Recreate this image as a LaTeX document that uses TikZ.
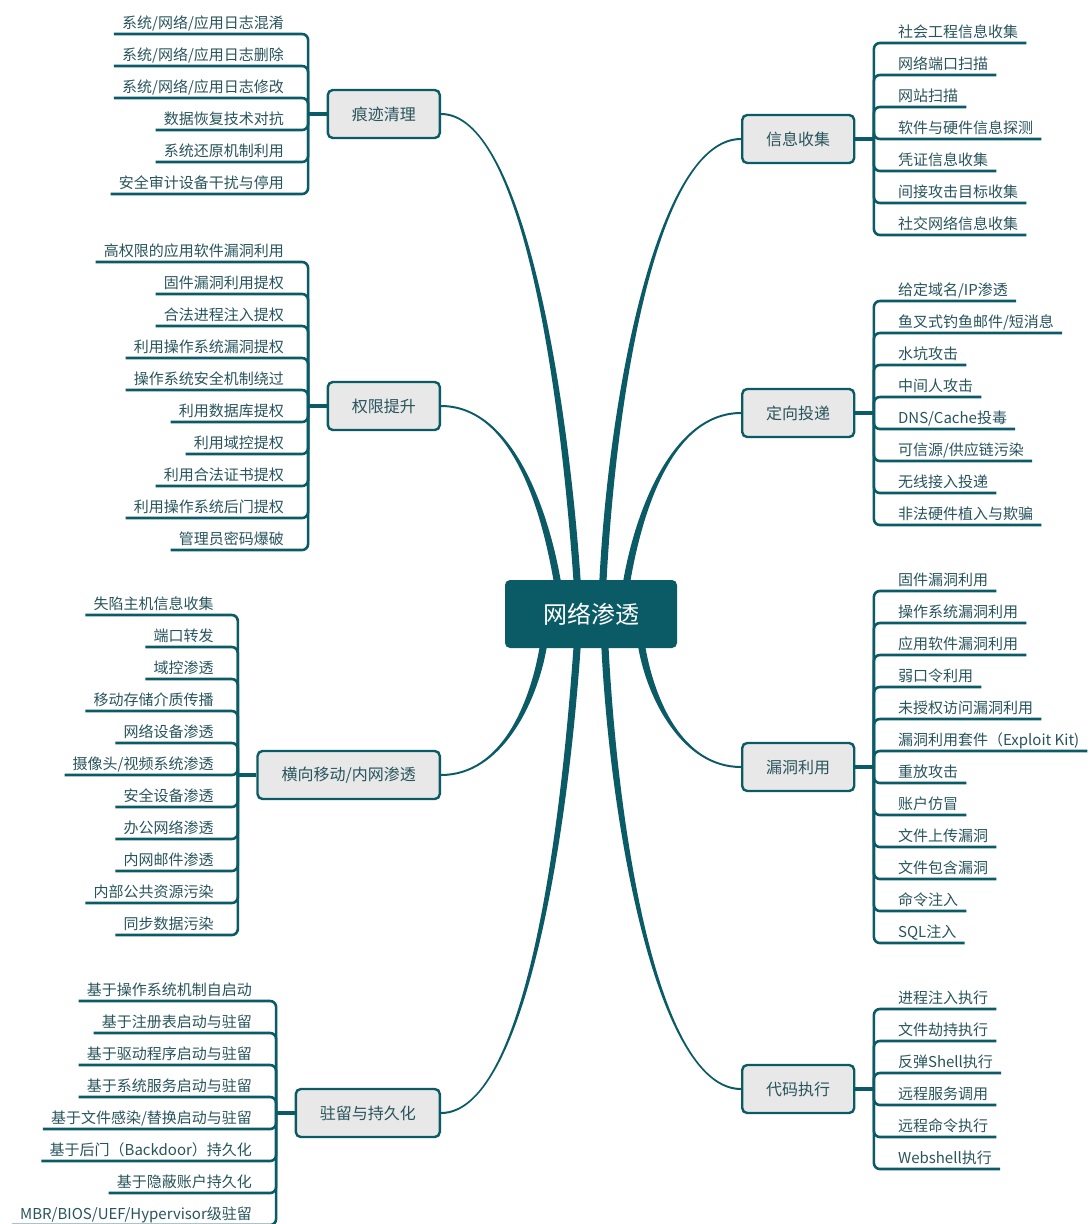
\documentclass[tikz,border=0pt]{standalone}
\usepackage{fontspec}
\setmainfont{Noto Sans CJK SC}
\usetikzlibrary{positioning}
\definecolor{mmteal}{RGB}{10,91,102}
\definecolor{mmink}{RGB}{40,84,92}
\definecolor{mmgray}{RGB}{232,232,232}
% tapered branch: from, to, out, in, out distance, in distance, end offset
\newcommand{\limb}[7]{\fill[limb] ([xshift=-3.6pt]#1) to[out=#3,in=#4,out distance=#5,in distance=#6] ([yshift=#7]#2)
  -- ([yshift={-(#7)}]#2) to[out=#4,in=#3,out distance=#6,in distance=#5] ([xshift=3.6pt]#1) -- cycle;}
% leaves left / right of a hub: hub name, middle index, list
\newcommand{\leavesL}[3]{%
  \coordinate (j#1) at ([xshift=-18.5pt]#1.west);
  \draw[stub] (#1.west) -- (j#1);
  \foreach \t [count=\i] in {#3} {
    \node[leafL] (#1-\i) at ([xshift=-16pt,yshift={-(\i-#2)*32}]j#1) {\t};
    \draw[twig] (j#1) |- (#1-\i.south west);
  }}
\newcommand{\leavesR}[3]{%
  \coordinate (j#1) at ([xshift=18.5pt]#1.east);
  \draw[stub] (#1.east) -- (j#1);
  \foreach \t [count=\i] in {#3} {
    \node[leafR] (#1-\i) at ([xshift=16pt,yshift={-(\i-#2)*32}]j#1) {\t};
    \draw[twig] (j#1) |- (#1-\i.south east);
  }}

\begin{document}
\begin{tikzpicture}[x=1pt, y=1pt,
  root/.style={fill=mmteal, rounded corners=5pt, minimum width=172pt, minimum height=68pt,
               text=white, font=\fontsize{24pt}{28pt}\selectfont},
  hub/.style={draw=mmteal, line width=2.4pt, fill=mmgray, rounded corners=5pt,
              minimum height=48pt, inner xsep=24pt, text=mmink, font=\fontsize{16pt}{19pt}\selectfont},
  leafL/.style={anchor=south east, inner xsep=8pt, inner ysep=3pt, text depth=2pt,
                text=mmink, font=\fontsize{15pt}{18pt}\selectfont},
  leafR/.style={leafL, anchor=south west},
  twig/.style={draw=mmteal, line width=2.6pt, rounded corners=6pt},
  stub/.style={draw=mmteal, line width=3.5pt},
  limb/.style={fill=mmteal}
]
\useasboundingbox (0,0) rectangle (1091,-1224);

\node[root] (root) at (591,-614) {网络渗透};

\node[hub, anchor=east] (trace)   at (441,-114)  {痕迹清理};
\node[hub, anchor=east] (priv)    at (441,-406)  {权限提升};
\node[hub, anchor=east] (lateral) at (441,-775)  {横向移动/内网渗透};
\node[hub, anchor=east] (persist) at (441,-1113) {驻留与持久化};
\node[hub, anchor=west] (info)    at (741,-139)  {信息收集};
\node[hub, anchor=west] (target)  at (741,-413)  {定向投递};
\node[hub, anchor=west] (vuln)    at (741,-767)  {漏洞利用};
\node[hub, anchor=west] (exec)    at (741,-1089) {代码执行};

% branches
\coordinate (o-trace)   at ([xshift=-14pt]root.north);
\coordinate (o-priv)    at ([xshift=-34pt]root.north);
\coordinate (o-info)    at ([xshift=12pt]root.north);
\coordinate (o-target)  at ([xshift=36pt]root.north);
\coordinate (o-lateral) at ([xshift=-48pt]root.south);
\coordinate (o-persist) at ([xshift=-14pt]root.south);
\coordinate (o-exec)    at ([xshift=14pt]root.south);
\coordinate (o-vuln)    at ([xshift=51pt]root.south);
\limb{o-trace}{trace.east}{94}{0}{200pt}{80pt}{-1pt}
\limb{o-priv}{priv.east}{100}{0}{75pt}{70pt}{-1pt}
\limb{o-info}{info.west}{87}{180}{190pt}{83pt}{1pt}
\limb{o-target}{target.west}{80}{180}{72pt}{68pt}{1pt}
\limb{o-lateral}{lateral.east}{-100}{0}{55pt}{61pt}{1pt}
\limb{o-persist}{persist.east}{-94}{0}{200pt}{82pt}{1pt}
\limb{o-exec}{exec.west}{-87}{180}{190pt}{82pt}{-1pt}
\limb{o-vuln}{vuln.west}{-80}{180}{51pt}{59pt}{-1pt}

% leaves
\leavesL{trace}{3.5}{{系统/网络/应用日志混淆},{系统/网络/应用日志删除},{系统/网络/应用日志修改},
  数据恢复技术对抗,系统还原机制利用,安全审计设备干扰与停用}
\leavesL{priv}{5.5}{高权限的应用软件漏洞利用,固件漏洞利用提权,合法进程注入提权,利用操作系统漏洞提权,
  操作系统安全机制绕过,利用数据库提权,利用域控提权,利用合法证书提权,利用操作系统后门提权,管理员密码爆破}
\leavesL{lateral}{6}{失陷主机信息收集,端口转发,域控渗透,移动存储介质传播,网络设备渗透,{摄像头/视频系统渗透},
  安全设备渗透,办公网络渗透,内网邮件渗透,内部公共资源污染,同步数据污染}
\leavesL{persist}{4.5}{基于操作系统机制自启动,基于注册表启动与驻留,基于驱动程序启动与驻留,基于系统服务启动与驻留,
  {基于文件感染/替换启动与驻留},基于后门（Backdoor）持久化,基于隐蔽账户持久化,{MBR/BIOS/UEF/Hypervisor级驻留}}
\leavesR{info}{4}{社会工程信息收集,网络端口扫描,网站扫描,软件与硬件信息探测,凭证信息收集,间接攻击目标收集,社交网络信息收集}
\leavesR{target}{4.5}{{给定域名/IP渗透},{鱼叉式钓鱼邮件/短消息},水坑攻击,中间人攻击,{DNS/Cache投毒},
  {可信源/供应链污染},无线接入投递,非法硬件植入与欺骗}
\leavesR{vuln}{6.5}{固件漏洞利用,操作系统漏洞利用,应用软件漏洞利用,弱口令利用,未授权访问漏洞利用,
  漏洞利用套件（Exploit Kit),重放攻击,账户仿冒,文件上传漏洞,文件包含漏洞,命令注入,SQL注入}
\leavesR{exec}{3.5}{进程注入执行,文件劫持执行,反弹Shell执行,远程服务调用,远程命令执行,Webshell执行}
\end{tikzpicture}
\end{document}
